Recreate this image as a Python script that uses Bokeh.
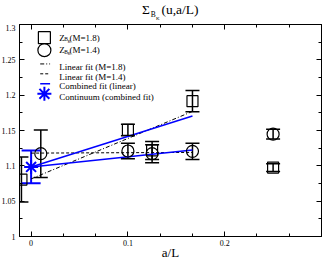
from bokeh.plotting import figure
from bokeh.models import (ColumnDataSource, Whisker, TeeHead, LinearAxis, FixedTicker,
                          Label, Range1d, Div)
from bokeh.layouts import column
from bokeh.embed import file_html
from bokeh.resources import INLINE

# ---------------- data ----------------
x_m18 = [-0.01, 0.1, 0.125, 0.1667, 0.25]
y_m18 = [1.0806, 1.1508, 1.1218, 1.1915, 1.0975]
e_m18 = [0.0318, 0.0082, 0.0128, 0.0150, 0.0055]

x_m14 = [0.01, 0.1, 0.125, 0.1667, 0.25]
y_m14 = [1.1172, 1.1210, 1.1172, 1.1205, 1.1448]
e_m14 = [0.0336, 0.0110, 0.0128, 0.0115, 0.0070]

x_cont = [0.0]
y_cont = [1.0984]
e_cont = [0.0232]

fit_x = [0.0, 0.1667]
fit_lin_m18 = [1.0815, 1.1770]
fit_lin_m14 = [1.1180, 1.1190]
fit_comb_m18 = [1.0984, 1.1706]
fit_comb_m14 = [1.0984, 1.1225]

x_ticks = [0.0, 0.1, 0.2]
x_tick_labels = ["0", "0.1", "0.2"]
x_minor = [0.0333, 0.0667, 0.1333, 0.1667, 0.2333, 0.2667]
y_ticks = [1.0, 1.05, 1.1, 1.15, 1.2, 1.25, 1.3]
y_tick_labels = ["1", "1.05", "1.1", "1.15", "1.2", "1.25", "1.3"]
y_minor = [1.025, 1.075, 1.125, 1.175, 1.225, 1.275]

legend_labels = ["(M=1.8)", "(M=1.4)", "Linear fit (M=1.8)", "Linear fit (M=1.4)",
                 "Combined fit (linear)", "Continuum (combined fit)"]

X0, X1 = -0.012, 0.30
Y0, Y1 = 1.0, 1.3
SERIF = "Liberation Serif"
BLUE = "#0000ff"

title = Div(text=("<div style=\"font-family:'Liberation Serif';font-size:13.5px;line-height:14px;"
                  "text-align:left;padding-left:142px;padding-top:3px;white-space:nowrap;color:black;\">"
                  "&Sigma;<span style=\"font-size:7.5px;position:relative;top:3.3px;margin-left:1px;\">B"
                  "<span style=\"font-size:5px;position:relative;top:2.4px;\">K</span></span>"
                  "<span style=\"margin-left:2px;\">(u,a/L)</span></div>"),
            width=327, height=24, margin=(0, 0, 0, 0))

p = figure(width=331, height=238, output_backend="svg", toolbar_location=None,
           x_range=Range1d(X0, X1), y_range=Range1d(Y0, Y1),
           min_border_left=23, min_border_right=2, min_border_top=0, min_border_bottom=23,
           margin=(0, 0, 0, -4))
p.grid.visible = False
p.outline_line_color = "black"
p.outline_line_width = 1
p.background_fill_color = "white"
p.border_fill_color = "white"

xt = FixedTicker(ticks=x_ticks, minor_ticks=x_minor)
yt = FixedTicker(ticks=y_ticks, minor_ticks=y_minor)

top_ax = LinearAxis()
right_ax = LinearAxis()
p.add_layout(top_ax, "above")
p.add_layout(right_ax, "right")
bottom_ax = p.below[0]
left_ax = p.left[0]

for ax in (bottom_ax, top_ax):
    ax.ticker = xt
for ax in (left_ax, right_ax):
    ax.ticker = yt
bottom_ax.major_label_overrides = {t: l for t, l in zip(x_ticks, x_tick_labels)}
left_ax.major_label_overrides = {t: l for t, l in zip(y_ticks, y_tick_labels)}
top_ax.major_label_overrides = {t: "" for t in x_ticks}
right_ax.major_label_overrides = {t: "" for t in y_ticks}

for ax in (bottom_ax, top_ax, left_ax, right_ax):
    ax.major_tick_in = 5
    ax.major_tick_out = 0
    ax.minor_tick_in = 3
    ax.minor_tick_out = 0
    ax.axis_line_color = "black"
    ax.major_tick_line_color = "black"
    ax.minor_tick_line_color = "black"
    ax.major_label_text_font = SERIF
    ax.major_label_text_font_size = "8px"
    ax.major_label_text_color = "black"
top_ax.major_label_standoff = 0
right_ax.major_label_standoff = 0

bottom_ax.major_label_standoff = 3
left_ax.major_label_standoff = 4
bottom_ax.axis_label = "a/L"
bottom_ax.axis_label_text_font = SERIF
bottom_ax.axis_label_text_font_size = "13px"
bottom_ax.axis_label_text_font_style = "normal"
bottom_ax.axis_label_text_color = "black"
bottom_ax.axis_label_standoff = -4

# ---------------- fit lines ----------------
p.line(fit_x, fit_lin_m18, line_color="black", line_width=1, line_dash="4 2 1 2")
p.line(fit_x, fit_lin_m14, line_color="black", line_width=1, line_dash="3 2")
p.line(fit_x, fit_comb_m18, line_color=BLUE, line_width=1.5)
p.line(fit_x, fit_comb_m14, line_color=BLUE, line_width=1.5)

# ---------------- error bars ----------------
def add_err(xs, ys, es, color, width, head):
    src = ColumnDataSource(dict(x=xs, upper=[y + e for y, e in zip(ys, es)],
                                lower=[y - e for y, e in zip(ys, es)]))
    w = Whisker(source=src, base="x", upper="upper", lower="lower", dimension="height",
                line_color=color, line_width=width,
                upper_head=TeeHead(size=head, line_color=color, line_width=width),
                lower_head=TeeHead(size=head, line_color=color, line_width=width))
    p.add_layout(w)

add_err(x_m18, y_m18, e_m18, "black", 1.5, 14)
add_err(x_m14, y_m14, e_m14, "black", 1.5, 14)
add_err(x_cont, y_cont, e_cont, BLUE, 2, 19)

# ---------------- markers ----------------
p.scatter(x_m18, y_m18, marker="square", size=11, fill_color=None, line_color="black", line_width=1.2)
p.scatter(x_m14, y_m14, marker="circle", size=12, fill_color=None, line_color="black", line_width=1.2)
p.scatter(x_cont, y_cont, marker="asterisk", size=14, line_color=BLUE, line_width=2)

# ---------------- manual legend ----------------
def fx(f):
    return X0 + f * (X1 - X0)

def fy(f):
    return Y1 - f * (Y1 - Y0)

icon_x = fx(0.0824)
seg_x0, seg_x1 = fx(0.0686), fx(0.1013)
text_x = fx(0.1317)
rows = [fy(0.062), fy(0.121), fy(0.186), fy(0.2326), fy(0.279), fy(0.327)]

p.scatter([icon_x], [rows[0]], marker="square", size=12, fill_color=None, line_color="black", line_width=1.2)
p.scatter([icon_x], [rows[1]], marker="circle", size=13, fill_color=None, line_color="black", line_width=1.2)
p.line([seg_x0, seg_x1], [rows[2], rows[2]], line_color="black", line_width=1, line_dash="4 2 1 2")
p.line([seg_x0, seg_x1], [rows[3], rows[3]], line_color="black", line_width=1, line_dash="3 2")
p.line([seg_x0, seg_x1], [rows[4], rows[4]], line_color=BLUE, line_width=1.5)
p.scatter([icon_x], [rows[5]], marker="asterisk", size=14, line_color=BLUE, line_width=2)

def lab(text, x, y, size, dx=0, dy=0, align="left", baseline="alphabetic"):
    p.add_layout(Label(x=x, y=y, x_offset=dx, y_offset=dy, text=text, text_font=SERIF,
                       text_font_size=size, text_color="black", text_align=align,
                       text_baseline=baseline))

for i in (0, 1):
    lab("Z", text_x, rows[i], "9px", dx=0, dy=0)
    lab("B", text_x, rows[i], "5.5px", dx=5, dy=-1.7)
    lab("K", text_x, rows[i], "4px", dx=8.4, dy=-3.7)
    lab(legend_labels[i], text_x, rows[i], "9px", dx=10.2, dy=0)
for i in (2, 3, 4, 5):
    lab(legend_labels[i], text_x, rows[i], "9px", dy=-2.7)

layout = column(title, p, spacing=0)
open("out.html", "w").write(file_html(layout, INLINE))
